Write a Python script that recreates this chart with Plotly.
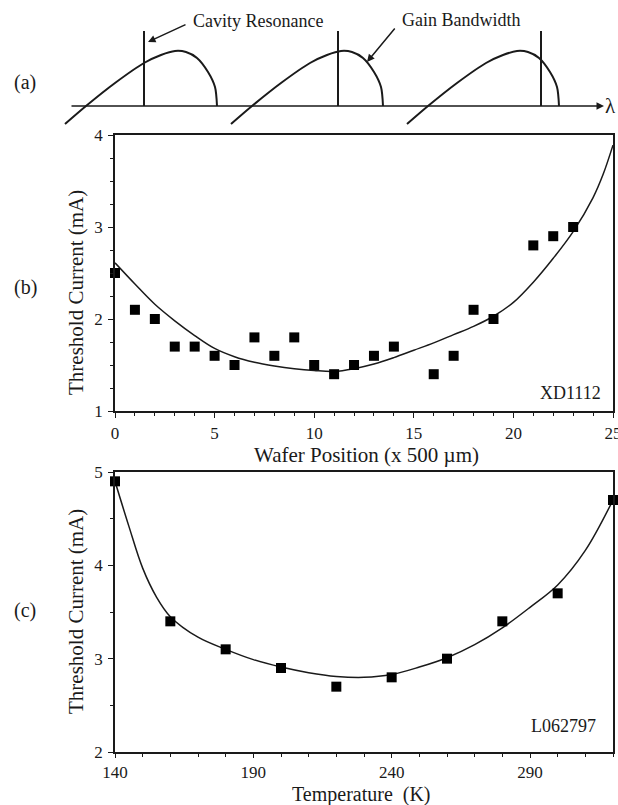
import plotly.graph_objects as go

FONT = "Liberation Serif"
INK = "#1a1a1a"

# ---- (a) schematic: gain bandwidth drifting past the cavity resonance ----
gain_cross = [86, 252, 428]          # where each gain curve crosses the lambda axis
resonance = [144, 338, 541]          # cavity resonance wavelengths
resonance_top = 75
gain_dx = [-21, 0, 29, 58, 75, 89, 100, 111, 122, 129, 131]
gain_h = [-18, 0, 23, 43, 51, 55, 54, 48, 34, 19, 0]
lambda_axis = [70, 604]

# ---- (b) threshold current across the wafer, sample XD1112 ----
wafer_pos = [0, 1, 2, 3, 4, 5, 6, 7, 8, 9, 10, 11, 12, 13, 14, 16, 17, 18, 19, 21, 22, 23]
wafer_ith = [2.5, 2.1, 2.0, 1.7, 1.7, 1.6, 1.5, 1.8, 1.6, 1.8, 1.5, 1.4, 1.5, 1.6, 1.7,
             1.4, 1.6, 2.1, 2.0, 2.8, 2.9, 3.0]
wafer_fit_pos = [0, 1, 2, 3, 4, 5, 6, 7, 8, 9, 10, 11, 12, 13, 14, 15, 16, 17, 18, 19,
                 20, 21, 22, 23, 24, 24.5, 25]
wafer_fit_ith = [2.61, 2.38, 2.16, 1.98, 1.82, 1.68, 1.59, 1.53, 1.49, 1.46, 1.44, 1.43,
                 1.46, 1.51, 1.58, 1.66, 1.74, 1.83, 1.92, 2.03, 2.18, 2.40, 2.66, 2.95,
                 3.32, 3.57, 3.89]

# ---- (c) threshold current vs temperature, sample L062797 ----
temp_k = [140, 160, 180, 200, 220, 240, 260, 280, 300, 320]
temp_ith = [4.9, 3.4, 3.1, 2.9, 2.7, 2.8, 3.0, 3.4, 3.7, 4.7]
temp_fit_k = [140, 145, 150, 155, 160, 170, 180, 190, 200, 210, 220, 230, 240, 250, 260,
              270, 280, 290, 300, 310, 320]
temp_fit_ith = [4.9, 4.42, 3.97, 3.66, 3.45, 3.23, 3.10, 2.99, 2.91, 2.85, 2.81, 2.80,
                2.83, 2.91, 3.01, 3.15, 3.33, 3.55, 3.79, 4.16, 4.70]

# page geometry (pixels): paper spans x 0..613, y 0..752
PW, PH = 613, 752


def px(x):
    return x / PW


def py(y):
    return (PH - y) / PH


fig = go.Figure()

# schematic gain curves
for c in gain_cross:
    fig.add_trace(go.Scatter(
        x=[c + d for d in gain_dx], y=gain_h, mode="lines",
        line=dict(color=INK, width=2, shape="spline", smoothing=0.8),
        xaxis="x3", yaxis="y3", hoverinfo="skip", showlegend=False))

# cavity resonance markers
res_x, res_y = [], []
for r in resonance:
    res_x += [r, r, None]
    res_y += [0, resonance_top, None]
fig.add_trace(go.Scatter(x=res_x, y=res_y, mode="lines",
                         line=dict(color=INK, width=2),
                         xaxis="x3", yaxis="y3", hoverinfo="skip", showlegend=False))

# (b) data + fit
fig.add_trace(go.Scatter(x=wafer_fit_pos, y=wafer_fit_ith, mode="lines",
                         line=dict(color=INK, width=1.5, shape="spline", smoothing=1.0),
                         xaxis="x", yaxis="y", showlegend=False))
fig.add_trace(go.Scatter(x=wafer_pos, y=wafer_ith, mode="markers",
                         marker=dict(symbol="square", size=10, color="#000"),
                         cliponaxis=False, xaxis="x", yaxis="y", showlegend=False))

# (c) data + fit
fig.add_trace(go.Scatter(x=temp_fit_k, y=temp_fit_ith, mode="lines",
                         line=dict(color=INK, width=1.5, shape="spline", smoothing=1.0),
                         xaxis="x2", yaxis="y2", showlegend=False))
fig.add_trace(go.Scatter(x=temp_k, y=temp_ith, mode="markers",
                         marker=dict(symbol="square", size=10, color="#000"),
                         cliponaxis=False, xaxis="x2", yaxis="y2", showlegend=False))

tickfont = dict(family=FONT, size=17, color=INK)
titlefont = dict(family=FONT, size=21, color=INK)
frame = dict(showline=True, mirror=True, linecolor=INK, linewidth=1.5,
             showgrid=False, zeroline=False, ticks="outside", tickcolor=INK,
             tickwidth=1.2, tickfont=tickfont, automargin=False,
             ticklabeloverflow="allow")

x_dom = [px(115), 1]
fig.update_layout(
    width=618, height=805,
    margin=dict(l=0, r=5, t=0, b=53, pad=0, autoexpand=False),
    paper_bgcolor="white", plot_bgcolor="white", showlegend=False,
    font=dict(family=FONT, color=INK),
    xaxis=dict(domain=x_dom, anchor="y", range=[0, 25], tick0=0, dtick=5, ticklen=5,
               minor=dict(dtick=1, ticks="outside", ticklen=3, tickcolor=INK),
               ticklabelstandoff=1, **frame),
    yaxis=dict(domain=[py(411), py(135)], anchor="x", range=[1, 4], dtick=1, ticklen=5,
               minor=dict(dtick=0.25, ticks="outside", ticklen=3, tickcolor=INK),
               ticklabelstandoff=2, **frame),
    xaxis2=dict(domain=x_dom, anchor="y2", range=[140, 320], tick0=140, dtick=50,
                ticklen=4,
                minor=dict(dtick=10, ticks="outside", ticklen=3, tickcolor=INK),
                ticklabelstandoff=0, **frame),
    yaxis2=dict(domain=[0, py(472)], anchor="x2", range=[2, 5], dtick=1, ticklen=5,
                minor=dict(dtick=0.5, ticks="outside", ticklen=3, tickcolor=INK),
                ticklabelstandoff=2, **frame),
    xaxis3=dict(domain=[0, 1], anchor="y3", range=[0, PW], visible=False),
    yaxis3=dict(domain=[py(130), 1], anchor="x3", range=[-24, 106], visible=False),
)

# axis titles
for txt, x, y, ang, fs in [("Wafer Position (x 500 µm)", 366, 455, 0, 21),
                           ("Temperature  (K)", 361, 794, 0, 20),
                           ("Threshold Current (mA)", 76, 293, -90, 21),
                           ("Threshold Current (mA)", 76, 612, -90, 21)]:
    fig.add_annotation(x=px(x), y=py(y), xref="paper", yref="paper", text=txt,
                       textangle=ang, xanchor="center", yanchor="middle",
                       showarrow=False, font=dict(family=FONT, size=fs, color=INK))

lab = dict(family=FONT, size=18, color=INK)
arrow = dict(showarrow=True, arrowhead=2, arrowsize=1, arrowwidth=1.5, arrowcolor=INK,
             xref="x3", yref="y3", axref="x3", ayref="y3", text="")
fig.add_annotation(x=lambda_axis[1], y=0, ax=lambda_axis[0], ay=0, **arrow)
fig.add_annotation(x=148, y=64, ax=187, ay=82, **arrow)
fig.add_annotation(x=367, y=44, ax=396, ay=79, **arrow)
fig.add_annotation(x=258, y=85, xref="x3", yref="y3", text="Cavity Resonance",
                   xanchor="center", showarrow=False, font=lab)
fig.add_annotation(x=461, y=86, xref="x3", yref="y3", text="Gain Bandwidth",
                   xanchor="center", showarrow=False, font=lab)
fig.add_annotation(x=610, y=0, xref="x3", yref="y3", text="λ", showarrow=False,
                   xanchor="center", font=dict(family=FONT, size=21, color=INK))

panel = dict(family=FONT, size=20, color=INK)
for txt, y in [("(a)", 82), ("(b)", 287), ("(c)", 610)]:
    fig.add_annotation(x=px(25), y=py(y), xref="paper", yref="paper", text=txt,
                       xanchor="center", yanchor="middle", showarrow=False, font=panel)

fig.add_annotation(x=24.5, y=1.2, xref="x", yref="y", text="XD1112", xanchor="right",
                   showarrow=False, font=lab)
fig.add_annotation(x=314.6, y=2.28, xref="x2", yref="y2", text="L062797",
                   xanchor="right", showarrow=False, font=lab)

fig.write_html("out.html")
